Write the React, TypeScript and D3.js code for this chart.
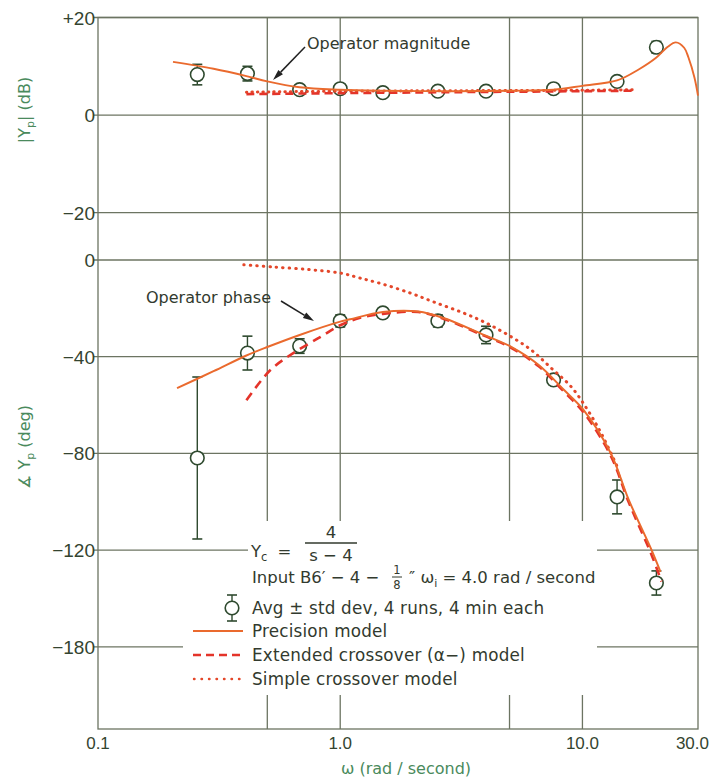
import React from "react";
import * as d3 from "d3";

// ---------- data ----------
const xGrid = [0.5, 1, 5, 10];
const xTickValues = [0.1, 1, 10, 30];
const xTickLabels = ["0.1", "1.0", "10.0", "30.0"];

const magTickValues = [20, 0, -20];
const magTickLabels = ["+20", "0", "\u221220"];
const phaseTickValues = [0, -40, -80, -120, -160];
const phaseTickLabels = ["0", "\u221240", "\u221280", "\u2212120", "\u2212180"];

// measured points: [omega, mean, sd]
const magPoints: [number, number, number][] = [
  [0.257, 8.3, 2.1],
  [0.414, 8.5, 1.5],
  [0.68, 5.2, 0.6],
  [1.0, 5.4, 0.6],
  [1.5, 4.6, 0.6],
  [2.53, 4.9, 0.5],
  [4.0, 4.9, 0.5],
  [7.6, 5.4, 0.5],
  [13.9, 6.9, 0.7],
  [20.2, 13.9, 1.2],
];
const phasePoints: [number, number, number][] = [
  [0.257, -81.9, 33.5],
  [0.414, -38.5, 7.0],
  [0.68, -35.6, 3.0],
  [1.0, -25.2, 2.5],
  [1.5, -21.9, 2.0],
  [2.53, -25.2, 2.5],
  [4.0, -31.0, 3.6],
  [7.6, -49.6, 2.0],
  [13.9, -98.0, 7.0],
  [20.2, -133.6, 5.0],
];

// model curves: [omega, value]
const magPrecision: [number, number][] = [
  [0.204, 10.9], [0.3, 9.5], [0.41, 8.0], [0.5, 6.9], [0.68, 5.7], [1.0, 5.2],
  [1.5, 5.0], [3, 4.9], [5, 5.0], [7.6, 5.2], [10, 6.0], [13.9, 7.1], [17, 9.3],
  [20.2, 11.8], [22.5, 14.0], [24.3, 14.9], [26.3, 13.8], [27.4, 11.8], [29, 7.7], [30, 4.0],
];
const magExtended: [number, number][] = [
  [0.41, 4.3], [1, 4.5], [3, 4.7], [10, 4.9], [16.6, 5.0],
];
const magSimple: [number, number][] = [
  [0.41, 4.7], [1, 4.9], [3, 5.0], [10, 5.1], [16.6, 5.2],
];
const phasePrecision: [number, number][] = [
  [0.212, -53], [0.3, -46], [0.41, -39.5], [0.5, -36], [0.68, -31], [1.0, -25.5],
  [1.1, -24.5], [1.5, -21.5], [2.1, -21.3], [2.67, -24], [3.92, -31], [5.1, -36],
  [6.6, -43.4], [8.4, -53.8], [10.1, -62], [13.1, -80], [15.5, -99], [19.3, -120], [21, -129],
];
const phaseExtended: [number, number][] = [
  [0.41, -58], [0.515, -45.5], [0.64, -38.5], [0.83, -31.8], [1.0, -27], [1.2, -24],
  [1.5, -22.3], [2.1, -21.5], [2.67, -24.3], [3.92, -31.3], [5.1, -36.4], [6.6, -44],
  [8.4, -54.5], [10.1, -63], [13.1, -81], [15.5, -100], [19.3, -122], [21.2, -133],
];
const phaseSimple: [number, number][] = [
  [0.4, -2], [0.53, -2.9], [0.75, -4], [1.0, -5.4], [1.21, -7.5], [1.5, -10],
  [1.95, -13.7], [2.44, -17.4], [3.15, -21.5], [3.92, -25.6], [4.93, -31], [6.14, -37.2],
  [7.43, -44.7], [9, -52.5], [10.5, -62], [12, -72], [14, -86],
];

const legendLabels = [
  "Avg \u00B1  std dev, 4 runs, 4 min each",
  "Precision model",
  "Extended crossover (\u03B1\u2212) model",
  "Simple crossover model",
];

// ---------- styles ----------
const FONT = "'Liberation Sans', 'DejaVu Sans', Arial, sans-serif";
const TFONT = "'DejaVu Sans', 'Liberation Sans', sans-serif";
const GRID = "#6c7462";
const TEXT = "#323a2e";
const TICK = "#34442f";
const TITLE = "#4a8a5c";
const MARK = "#2f4a2f";
const C_SOLID = "#ea6a2e";
const C_DASH = "#e4342a";
const C_DOT = "#e4472a";

export default function App() {
  const x = d3.scaleLog().domain([0.1, 30]).range([98, 698]);
  const yM = d3.scaleLinear().domain([20, -30]).range([17.5, 261.5]);
  const yP = d3.scaleLinear().domain([0, -194]).range([260, 729]);
  const left = x(0.1), right = x(30);
  const top = yM(20), bottom = yP(-194);

  const lineM = d3.line<[number, number]>().x((d) => x(d[0])).y((d) => yM(d[1])).curve(d3.curveCatmullRom);
  const lineP = d3.line<[number, number]>().x((d) => x(d[0])).y((d) => yP(d[1])).curve(d3.curveCatmullRom);

  const errBar = (cx: number, cy: number, y1: number, y2: number, key: string) => (
    <g key={key}>
      <line x1={cx} x2={cx} y1={y1} y2={y2} stroke={MARK} strokeWidth={1.4} />
      <line x1={cx - 5} x2={cx + 5} y1={y1} y2={y1} stroke={MARK} strokeWidth={1.6} />
      <line x1={cx - 5} x2={cx + 5} y1={y2} y2={y2} stroke={MARK} strokeWidth={1.6} />
      <circle cx={cx} cy={cy} r={6.8} fill="#fff" stroke={MARK} strokeWidth={1.6} />
    </g>
  );

  const arrow = (x1: number, y1: number, x2: number, y2: number) => {
    const a = Math.atan2(y2 - y1, x2 - x1);
    const L = 11, w = 3.2;
    const bx = x2 - L * Math.cos(a), by = y2 - L * Math.sin(a);
    const p = `${x2},${y2} ${bx + w * Math.sin(a)},${by - w * Math.cos(a)} ${bx - w * Math.sin(a)},${by + w * Math.cos(a)}`;
    return (
      <g>
        <line x1={x1} y1={y1} x2={bx} y2={by} stroke="#222" strokeWidth={1.5} />
        <polygon points={p} fill="#222" />
      </g>
    );
  };

  return (
    <svg width={710} height={779} style={{ position: "absolute", left: 0, top: 0, background: "#fff" }} fontFamily={FONT}>
      <rect x={0} y={0} width={710} height={779} fill="#fff" />
      {/* grid */}
      <g stroke={GRID} strokeWidth={1.3} fill="none">
        {xGrid.map((v) => (
          <line key={"vx" + v} x1={x(v)} x2={x(v)} y1={top} y2={bottom} />
        ))}
        {magTickValues.map((v) => (
          <line key={"hm" + v} x1={left - 5} x2={right} y1={yM(v)} y2={yM(v)} />
        ))}
        {phaseTickValues.map((v) => (
          <line key={"hp" + v} x1={left - 5} x2={right} y1={yP(v)} y2={yP(v)} />
        ))}
        <rect x={left} y={top} width={right - left} height={bottom - top} />
      </g>
      {/* white breaks behind the annotation block */}
      <rect x={248} y={521} width={349} height={174} fill="#fff" />
      <rect x={183} y={598} width={414} height={97} fill="#fff" />

      {/* tick labels */}
      <g fill={TICK} fontSize={19} textAnchor="end">
        {magTickValues.map((v, i) => (
          <text key={"ml" + v} x={left - 3} y={yM(v) + 7}>{magTickLabels[i]}</text>
        ))}
        {phaseTickValues.map((v, i) => (
          <text key={"pl" + v} x={left - 3} y={yP(v) + 7}>{phaseTickLabels[i]}</text>
        ))}
      </g>
      <g fill={TICK} fontSize={17}>
        {xTickValues.map((v, i) => (
          <text key={"xl" + v} x={i === xTickValues.length - 1 ? 709 : x(v)} y={749}
            textAnchor={i === xTickValues.length - 1 ? "end" : "middle"}>{xTickLabels[i]}</text>
        ))}
      </g>

      {/* axis titles */}
      <text transform="translate(30,110) rotate(-90)" textAnchor="middle" fill={TITLE} fontSize={16} fontFamily={TFONT}>
        |Y<tspan fontSize={11} dy={4}>p</tspan><tspan dy={-4}>| (dB)</tspan>
      </text>
      <text transform="translate(30,447) rotate(-90)" textAnchor="middle" fill={TITLE} fontSize={16} fontFamily={TFONT}>
        ∡ Y<tspan fontSize={11} dy={4}>p</tspan><tspan dy={-4}> (deg)</tspan>
      </text>
      <text x={406} y={774} textAnchor="middle" fill={TITLE} fontSize={16} fontFamily={TFONT}>ω (rad / second)</text>

      {/* data points */}
      {magPoints.map((d, i) =>
        errBar(x(d[0]), yM(d[1]), yM(d[1] + d[2]), yM(d[1] - d[2]), "m" + i)
      )}
      {phasePoints.map((d, i) =>
        errBar(x(d[0]), yP(d[1]), yP(d[1] + d[2]), yP(d[1] - d[2]), "p" + i)
      )}

      {/* model curves */}
      <path d={lineM(magSimple) || ""} fill="none" stroke={C_DOT} strokeWidth={3} strokeDasharray="0.5 5" strokeLinecap="round" />
      <path d={lineM(magExtended) || ""} fill="none" stroke={C_DASH} strokeWidth={2.6} strokeDasharray="8 5" />
      <path d={lineM(magPrecision) || ""} fill="none" stroke={C_SOLID} strokeWidth={1.9} />
      <path d={lineP(phaseSimple) || ""} fill="none" stroke={C_DOT} strokeWidth={3} strokeDasharray="0.5 6" strokeLinecap="round" />
      <path d={lineP(phaseExtended) || ""} fill="none" stroke={C_DASH} strokeWidth={2.6} strokeDasharray="9 6" />
      <path d={lineP(phasePrecision) || ""} fill="none" stroke={C_SOLID} strokeWidth={2} />

      {/* annotations */}
      <g fontFamily={TFONT} fill={TEXT} fontSize={16}>
        <text x={307} y={49}>Operator magnitude</text>
        <text x={146} y={303}>Operator phase</text>
      </g>
      {arrow(305, 47, 273, 80)}
      {arrow(281, 301, 314, 321)}

      {/* equation block */}
      <g fill={TEXT} fontSize={16.5} fontFamily={TFONT}>
        <text x={251} y={557}>Y<tspan fontSize={11.5} dy={4}>c</tspan><tspan dy={-4} dx={10}>=</tspan></text>
        <text x={331} y={538} textAnchor="middle">4</text>
        <line x1={305} x2={357} y1={543} y2={543} stroke={TEXT} strokeWidth={1.3} />
        <text x={331} y={561} textAnchor="middle">s − 4</text>
        <text x={252} y={583}>Input B6′ − 4 −</text>
        <text x={397} y={574} textAnchor="middle" fontSize={11.5}>1</text>
        <line x1={392} x2={402} y1={577} y2={577} stroke={TEXT} strokeWidth={1} />
        <text x={397} y={589} textAnchor="middle" fontSize={11.5}>8</text>
        <text x={409} y={583}>″ ω<tspan fontSize={11} dy={4}>i</tspan><tspan dy={-4}> = 4.0 rad / second</tspan></text>
      </g>

      {/* legend */}
      {errBar(232, 608, 595, 621, "leg")}
      <g fill={TEXT} fontSize={16.8} fontFamily={TFONT} letterSpacing={0.2}>
        <text x={252} y={614}>{legendLabels[0]}</text>
        <text x={252} y={637}>{legendLabels[1]}</text>
        <text x={252} y={661}>{legendLabels[2]}</text>
        <text x={252} y={685}>{legendLabels[3]}</text>
      </g>
      <line x1={193} x2={243} y1={631} y2={631} stroke={C_SOLID} strokeWidth={2} />
      <line x1={193} x2={243} y1={655} y2={655} stroke={C_DASH} strokeWidth={2.6} strokeDasharray="8 5" />
      <line x1={194} x2={243} y1={679} y2={679} stroke={C_DOT} strokeWidth={2.4} strokeDasharray="0.5 7" strokeLinecap="round" />
    </svg>
  );
}
